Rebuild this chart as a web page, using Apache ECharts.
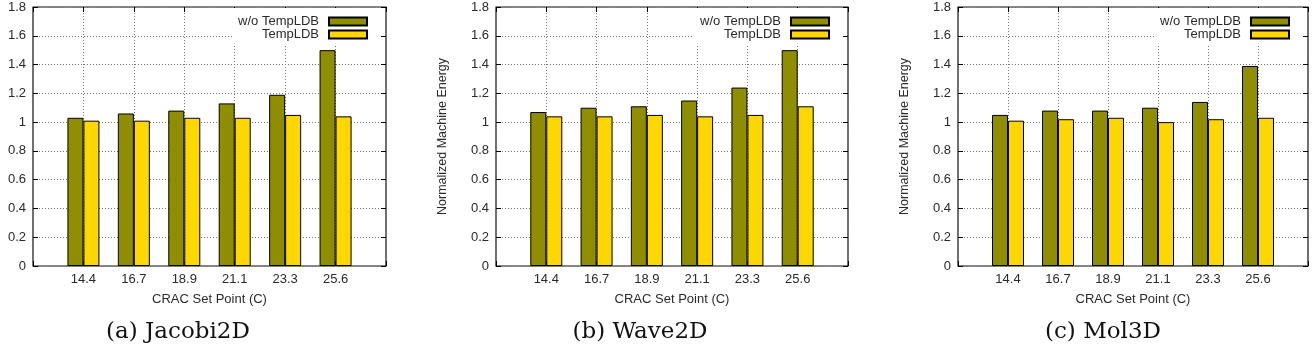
<!DOCTYPE html>
<html>
<head>
<meta charset="utf-8">
<script src="https://cdn.jsdelivr.net/npm/echarts@6/dist/echarts.min.js"></script>
<style>
  html, body { margin: 0; padding: 0; background: #fff; }
  #main { width: 1312px; height: 352px; }
</style>
</head>
<body>
<div id="main"></div>
<script>
// CRAC set points (x categories)
var setPoints = ['14.4', '16.7', '18.9', '21.1', '23.3', '25.6'];

// normalized machine energy
var jacobiWithout = [1.03, 1.06, 1.08, 1.13, 1.19, 1.50];
var jacobiTemp    = [1.01, 1.01, 1.03, 1.03, 1.05, 1.04];
var waveWithout   = [1.07, 1.10, 1.11, 1.15, 1.24, 1.50];
var waveTemp      = [1.04, 1.04, 1.05, 1.04, 1.05, 1.11];
var molWithout    = [1.05, 1.08, 1.08, 1.10, 1.14, 1.39];
var molTemp       = [1.01, 1.02, 1.03, 1.00, 1.02, 1.03];

var captions = ['(a) Jacobi2D', '(b) Wave2D', '(c) Mol3D'];
var seriesNames = ['w/o TempLDB', 'TempLDB'];

var myChart = echarts.init(document.getElementById('main'));

var FONT = "'Liberation Sans', Arial, sans-serif";
var W = 1312;
// plot boxes in pixels [left, right]
var boxes = [[33, 386], [496, 848], [958, 1308]];
var panels = [
    [jacobiWithout, jacobiTemp],
    [waveWithout, waveTemp],
    [molWithout, molTemp]
];
var colors = ['#8e8e00', '#ffd700'];
var gridLine = { color: '#777', type: [1, 2], width: 1 };

function toPairs(arr) {
    return arr.map(function (v, i) { return [i, v]; });
}

var grid = [], xAxis = [], yAxis = [], series = [], legend = [], graphic = [];

boxes.forEach(function (b, p) {
    grid.push({
        left: b[0], right: W - b[1], top: 7, bottom: 86,
        show: true, borderColor: '#111', borderWidth: 1.2, backgroundColor: 'transparent'
    });
    // bottom x axis
    xAxis.push({
        type: 'value', gridIndex: p, min: -1, max: 6, interval: 1,
        name: 'CRAC Set Point (C)', nameLocation: 'middle', nameGap: 27,
        nameTextStyle: { fontFamily: FONT, fontSize: 13, color: '#2a2a2a' },
        axisLine: { show: false, onZero: false },
        axisTick: { inside: true, length: 5, lineStyle: { color: '#000' } },
        axisLabel: {
            fontFamily: FONT, fontSize: 13, color: '#2a2a2a', margin: 7,
            formatter: function (v) { return setPoints[v] || ''; }
        },
        splitLine: { show: true, lineStyle: gridLine }
    });
    // top mirror ticks
    xAxis.push({
        type: 'value', gridIndex: p, min: -1, max: 6, interval: 1, position: 'top',
        axisLine: { show: false, onZero: false },
        axisTick: { inside: true, length: 5, lineStyle: { color: '#000' } },
        axisLabel: { show: false },
        splitLine: { show: false }
    });
    yAxis.push({
        type: 'value', gridIndex: p, min: 0, max: 1.8, interval: 0.2,
        name: p === 0 ? '' : 'Normalized Machine Energy',
        nameLocation: 'middle', nameGap: 47,
        nameTextStyle: { fontFamily: FONT, fontSize: 12.5, color: '#2a2a2a' },
        axisLine: { show: false, onZero: false },
        axisTick: { inside: true, length: 5, lineStyle: { color: '#000' } },
        axisLabel: { fontFamily: FONT, fontSize: 13, color: '#2a2a2a', margin: 7 },
        splitLine: { show: true, lineStyle: gridLine }
    });
    yAxis.push({
        type: 'value', gridIndex: p, min: 0, max: 1.8, interval: 0.2, position: 'right',
        axisLine: { show: false, onZero: false },
        axisTick: { inside: true, length: 5, lineStyle: { color: '#000' } },
        axisLabel: { show: false },
        splitLine: { show: false }
    });

    panels[p].forEach(function (vals, s) {
        series.push({
            name: seriesNames[s],
            type: 'bar',
            xAxisIndex: p * 2,
            yAxisIndex: p * 2,
            data: toPairs(vals),
            barWidth: 16,
            barGap: '0%',
            itemStyle: { color: colors[s], borderColor: '#000', borderWidth: 1 },
            emphasis: { disabled: true },
            animation: false
        });
    });

    legend.push({
        data: seriesNames,
        orient: 'vertical',
        align: 'right',
        right: W - b[1] + 5,
        top: 8,
        padding: [7, 13, 5, 6],
        itemGap: 0,
        itemWidth: 38,
        itemHeight: 8,
        icon: 'rect',
        backgroundColor: '#fff',
        selectedMode: false,
        textStyle: { fontFamily: FONT, fontSize: 13, color: '#2a2a2a', padding: [0, 5, 0, 0] }
    });

    var centers = [178, 640, 1103];
    graphic.push({
        type: 'text',
        x: centers[p],
        y: 332,
        style: {
            text: captions[p],
            font: "23px 'DejaVu Serif', 'Liberation Serif', serif",
            fill: '#111',
            align: 'center',
            verticalAlign: 'middle'
        }
    });
});

var option = {
    animation: false,
    grid: grid,
    xAxis: xAxis,
    yAxis: yAxis,
    legend: legend,
    series: series,
    graphic: graphic
};
myChart.setOption(option);
</script>
</body>
</html>
